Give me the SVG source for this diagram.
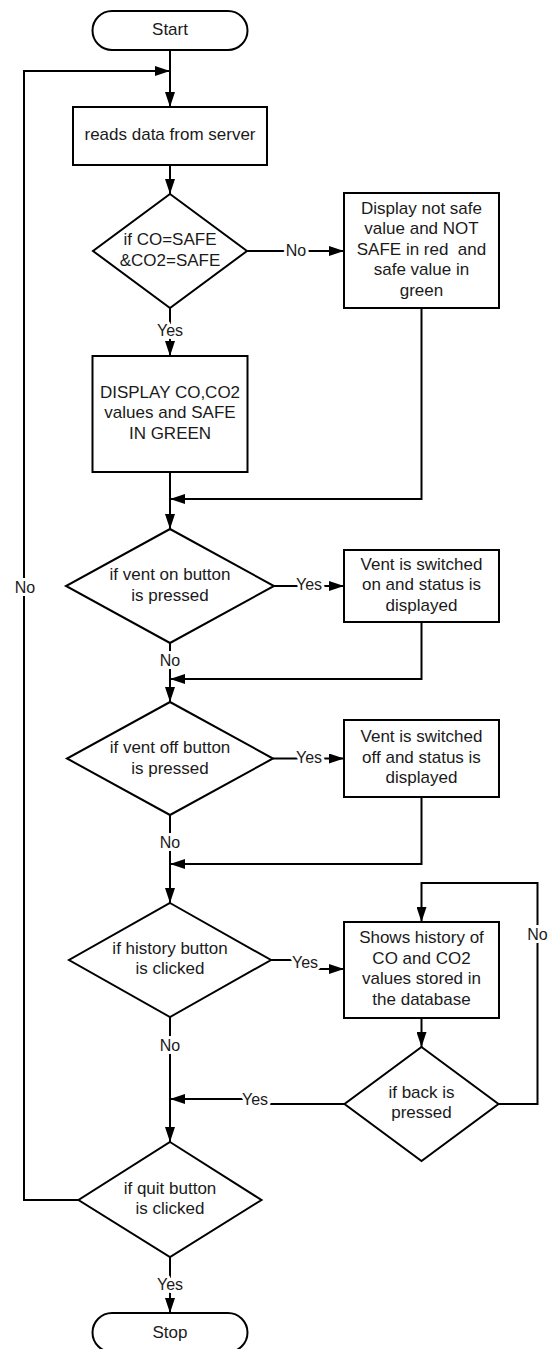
<svg xmlns="http://www.w3.org/2000/svg" width="550" height="1349" viewBox="0 0 550 1349">
<style>
.s{fill:#fff;stroke:#000;stroke-width:2}
.c{fill:none;stroke:#000;stroke-width:2}
text{font-family:"Liberation Sans",Arial,sans-serif;font-size:17px;fill:#1a1a1a;text-anchor:middle}
.l{font-size:16px;stroke:#fff;stroke-width:6px;paint-order:stroke;stroke-linejoin:round}
</style>
<defs>
<marker id="a" markerUnits="userSpaceOnUse" markerWidth="15" markerHeight="10" refX="15" refY="5" orient="auto">
<path d="M0,0 L15,5 L0,10 z" fill="#000"/>
</marker>
</defs>
<g id="connectors">
<path class="c" d="M170,50 V107" marker-end="url(#a)"/>
<path class="c" d="M78.5,1200 H24 V71 H170" marker-end="url(#a)"/>
<path class="c" d="M170,165 V194" marker-end="url(#a)"/>
<path class="c" d="M247,251 H344" marker-end="url(#a)"/>
<path class="c" d="M170,308 V356" marker-end="url(#a)"/>
<path class="c" d="M170,472 V529" marker-end="url(#a)"/>
<path class="c" d="M421.5,308 V499 H170" marker-end="url(#a)"/>
<path class="c" d="M274,586 H344" marker-end="url(#a)"/>
<path class="c" d="M170,643 V702" marker-end="url(#a)"/>
<path class="c" d="M421.5,622 V679 H170" marker-end="url(#a)"/>
<path class="c" d="M273,758.5 H344" marker-end="url(#a)"/>
<path class="c" d="M170,815 V903" marker-end="url(#a)"/>
<path class="c" d="M421.5,797 V864 H170" marker-end="url(#a)"/>
<path class="c" d="M271,960 H305 V969 H344" marker-end="url(#a)"/>
<path class="c" d="M170,1017 V1142" marker-end="url(#a)"/>
<path class="c" d="M421.5,1018 V1047" marker-end="url(#a)"/>
<path class="c" d="M498.5,1104 H537.5 V883 H421.5 V922" marker-end="url(#a)"/>
<path class="c" d="M344.5,1104 H255 V1099 H170" marker-end="url(#a)"/>
<path class="c" d="M170,1257 V1313" marker-end="url(#a)"/>
<text class="l" x="25" y="593">No</text>
<text class="l" x="296" y="256">No</text>
<text class="l" x="170" y="336">Yes</text>
<text class="l" x="309" y="590">Yes</text>
<text class="l" x="170" y="666">No</text>
<text class="l" x="309" y="763">Yes</text>
<text class="l" x="170" y="848">No</text>
<text class="l" x="305" y="968">Yes</text>
<text class="l" x="170" y="1051">No</text>
<text class="l" x="537.5" y="940">No</text>
<text class="l" x="255" y="1105">Yes</text>
<text class="l" x="170" y="1290">Yes</text>
</g>
<g id="start"><rect class="s" x="92.5" y="11" width="155" height="39" rx="19.5"/><text x="170" y="35">Start</text></g>
<g id="read"><rect class="s" x="73" y="107" width="194" height="58"/><text x="170" y="140">reads data from server</text></g>
<g id="check-safe"><path class="s" d="M170,194 L247,251 L170,308 L93,251 Z"/><text x="170" y="245">if CO=SAFE</text><text x="170" y="266">&amp;CO2=SAFE</text></g>
<g id="not-safe"><rect class="s" x="344" y="193" width="155" height="115"/>
<text x="421.5" y="213.5">Display not safe</text><text x="421.5" y="234">value and NOT</text><text x="421.5" y="254.5" xml:space="preserve">SAFE in red  and</text><text x="421.5" y="275">safe value in</text><text x="421.5" y="295.5">green</text></g>
<g id="safe"><rect class="s" x="92.5" y="356" width="155" height="116"/>
<text x="170" y="397.5">DISPLAY CO,CO2</text><text x="170" y="418">values and SAFE</text><text x="170" y="438.5">IN GREEN</text></g>
<g id="vent-on-check"><path class="s" d="M170,529 L274,586 L170,643 L66,586 Z"/><text x="170" y="580">if vent on button</text><text x="170" y="601">is pressed</text></g>
<g id="vent-on"><rect class="s" x="344" y="550" width="155" height="72"/>
<text x="421.5" y="569.5">Vent is switched</text><text x="421.5" y="590">on and status is</text><text x="421.5" y="610.5">displayed</text></g>
<g id="vent-off-check"><path class="s" d="M170,702 L273,758.5 L170,815 L67,758.5 Z"/><text x="170" y="752.5">if vent off button</text><text x="170" y="773.5">is pressed</text></g>
<g id="vent-off"><rect class="s" x="344" y="720" width="155" height="77"/>
<text x="421.5" y="742">Vent is switched</text><text x="421.5" y="762.5">off and status is</text><text x="421.5" y="783">displayed</text></g>
<g id="history-check"><path class="s" d="M170,903 L271,960 L170,1017 L69,960 Z"/><text x="170" y="953.5">if history button</text><text x="170" y="974">is clicked</text></g>
<g id="history"><rect class="s" x="344" y="922" width="155" height="96"/>
<text x="421.5" y="943">Shows history of</text><text x="421.5" y="963.5">CO and CO2</text><text x="421.5" y="984">values stored in</text><text x="421.5" y="1004.5">the database</text></g>
<g id="back-check"><path class="s" d="M421.5,1047 L498.5,1104 L421.5,1161 L344.5,1104 Z"/><text x="421.5" y="1097.5">if back is</text><text x="421.5" y="1118">pressed</text></g>
<g id="quit-check"><path class="s" d="M170,1142 L261.5,1200 L170,1257 L78.5,1200 Z"/><text x="170" y="1193.5">if quit button</text><text x="170" y="1213.5">is clicked</text></g>
<g id="stop"><rect class="s" x="92.5" y="1313" width="155" height="39" rx="19.5"/><text x="170" y="1338">Stop</text></g>
</svg>
